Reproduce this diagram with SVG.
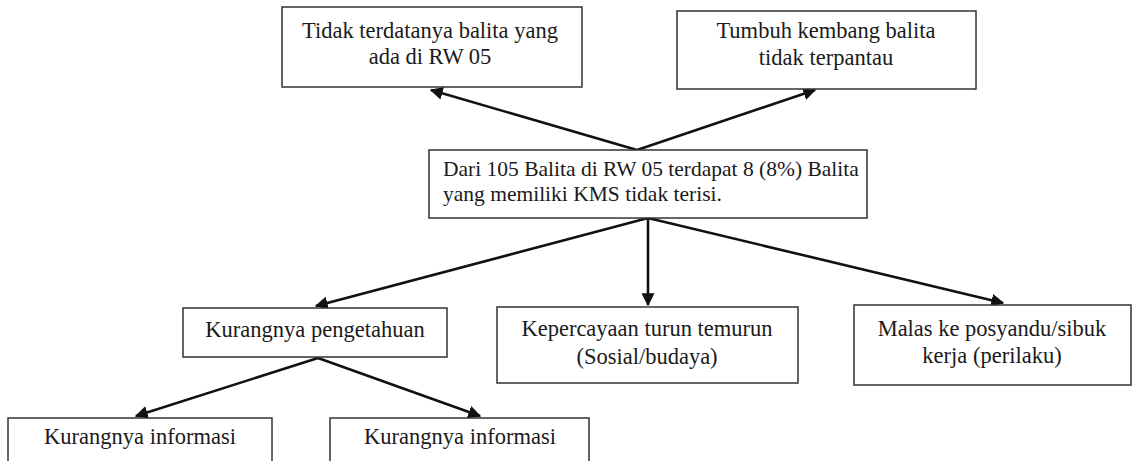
<svg xmlns="http://www.w3.org/2000/svg" width="1133" height="461" viewBox="0 0 1133 461">
<style>
.box{fill:#fff;stroke:#333;stroke-width:1.5}
.t{font-family:'Liberation Serif','Times New Roman',serif;font-size:22.5px;fill:#1a1a1a;text-anchor:middle}
.tl{font-family:'Liberation Serif','Times New Roman',serif;font-size:21.5px;fill:#1a1a1a}
.c{stroke:#111;stroke-width:2.6;fill:none;marker-end:url(#ah)}
</style>
<defs>
<marker id="ah" viewBox="0 0 10 10" refX="9" refY="5" markerWidth="5" markerHeight="5" markerUnits="strokeWidth" orient="auto">
<path d="M0,0 L10,5 L0,10 Z" fill="#111"/>
</marker>
</defs>
<rect width="1133" height="461" fill="#fff"/>
<g id="connectors">
<line class="c" x1="637" y1="150" x2="431" y2="90"/>
<line class="c" x1="637" y1="150" x2="815" y2="90"/>
<line class="c" x1="648" y1="218" x2="316" y2="306"/>
<line class="c" x1="648" y1="218" x2="648" y2="305"/>
<line class="c" x1="648" y1="218" x2="1003" y2="303"/>
<line class="c" x1="318" y1="358" x2="136" y2="416"/>
<line class="c" x1="318" y1="358" x2="480" y2="416"/>
</g>
<g id="n1">
<rect class="box" x="282" y="7" width="300" height="80"/>
<text class="t" x="430" y="38">Tidak terdatanya balita yang</text>
<text class="t" x="430" y="64">ada di RW 05</text>
</g>
<g id="n2">
<rect class="box" x="677" y="11" width="299" height="78"/>
<text class="t" x="826" y="38">Tumbuh kembang balita</text>
<text class="t" x="826" y="65">tidak terpantau</text>
</g>
<g id="n3">
<rect class="box" x="429" y="150" width="438" height="68"/>
<text class="tl" x="443" y="176">Dari 105 Balita di RW 05 terdapat 8 (8%) Balita</text>
<text class="tl" x="443" y="201">yang memiliki KMS tidak terisi.</text>
</g>
<g id="n4">
<rect class="box" x="183" y="308" width="264" height="49"/>
<text class="t" x="315" y="337">Kurangnya pengetahuan</text>
</g>
<g id="n5">
<rect class="box" x="497" y="307" width="301" height="76"/>
<text class="t" x="647" y="336">Kepercayaan turun temurun</text>
<text class="t" x="647" y="364">(Sosial/budaya)</text>
</g>
<g id="n6">
<rect class="box" x="854" y="305" width="277" height="80"/>
<text class="t" x="992" y="336">Malas ke posyandu/sibuk</text>
<text class="t" x="992" y="363">kerja (perilaku)</text>
</g>
<g id="n7">
<rect class="box" x="8" y="418" width="264" height="50"/>
<text class="t" x="140" y="444">Kurangnya informasi</text>
</g>
<g id="n8">
<rect class="box" x="330" y="418" width="259" height="50"/>
<text class="t" x="460" y="444">Kurangnya informasi</text>
</g>
</svg>
